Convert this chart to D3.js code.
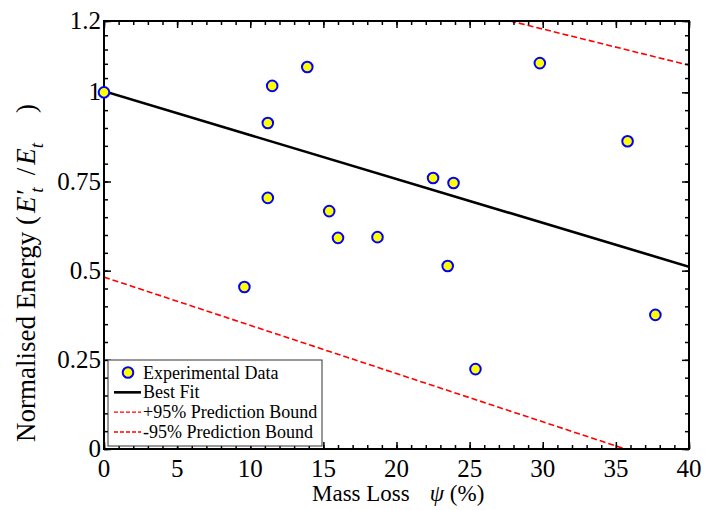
<!DOCTYPE html>
<html>
<head>
<meta charset="utf-8">
<script src="https://cdn.jsdelivr.net/npm/d3@7"></script>
<style>
  body { margin: 0; background: #fff; }
  svg text { font-family: "Liberation Serif", "Times New Roman", serif; fill: #000; }
</style>
</head>
<body>
<div id="chart"></div>
<script>
// experimental points
var massLoss = [0, 9.6, 11.2, 11.2, 11.5, 13.9, 15.4, 16.0, 18.7, 22.5, 23.9, 23.5, 25.4, 29.8, 35.8, 37.7];
var energy   = [1.0, 0.454, 0.704, 0.914, 1.018, 1.071, 0.667, 0.592, 0.594, 0.760, 0.746, 0.513, 0.224, 1.082, 0.863, 0.376];

// best fit and prediction bounds (end points)
var fitX = [0, 40];
var fitY = [1.003, 0.511];
var upperX = [20, 40];
var upperY = [1.279, 1.076];
var lowerX = [0, 40];
var lowerY = [0.482, -0.059];

var xTicks = [0, 5, 10, 15, 20, 25, 30, 35, 40];
var yTicks = [0, 0.25, 0.5, 0.75, 1, 1.2];
var yTickLabels = ["0", "0.25", "0.5", "0.75", "1", "1.2"];

var legendLabels = ["Experimental Data", "Best Fit", "+95% Prediction Bound", "-95% Prediction Bound"];

(function() {
var width = 706, height = 510;
var pLeft = 104, pRight = 689, pTop = 21, pBottom = 449;

var svg = d3.select("#chart").append("svg")
	.attr("width", width)
	.attr("height", height);

var x = d3.scaleLinear().domain([0, 40]).range([pLeft, pRight]);
var y = d3.scaleLinear().domain([0, 1.2]).range([pBottom, pTop]);

svg.append("clipPath").attr("id", "clip")
	.append("rect")
	.attr("x", pLeft).attr("y", pTop)
	.attr("width", pRight - pLeft).attr("height", pBottom - pTop);

var plot = svg.append("g").attr("clip-path", "url(#clip)");

var line = d3.line()
	.x(function(d) { return x(d[0]); })
	.y(function(d) { return y(d[1]); });

plot.append("path")
	.datum(d3.zip(upperX, upperY))
	.attr("d", line)
	.attr("fill", "none")
	.attr("stroke", "#ff0000")
	.attr("stroke-width", 1.6)
	.attr("stroke-dasharray", "6,3");

plot.append("path")
	.datum(d3.zip(lowerX, lowerY))
	.attr("d", line)
	.attr("fill", "none")
	.attr("stroke", "#ff0000")
	.attr("stroke-width", 1.6)
	.attr("stroke-dasharray", "6,3");

plot.append("path")
	.datum(d3.zip(fitX, fitY))
	.attr("d", line)
	.attr("fill", "none")
	.attr("stroke", "#000")
	.attr("stroke-width", 2.6);

// minor tick positions: x every 1, y five parts per major interval
var xMinor = d3.range(0, 41, 1);
var yMinor = [];
for (var i = 0; i < yTicks.length - 1; i++) {
	for (var k = 0; k < 5; k++) {
		yMinor.push(yTicks[i] + (yTicks[i + 1] - yTicks[i]) * k / 5);
	}
}
yMinor.push(1.2);

var axes = svg.append("g");
function tickAxis(axis, ticks, len) {
	return axis.tickValues(ticks).tickSize(len).tickFormat("");
}
function styleAxis(g) {
	g.select(".domain").remove();
	g.selectAll(".tick line").attr("stroke", "#000").attr("stroke-width", 1.5);
}
// inward ticks (negative size)
axes.append("g").attr("transform", "translate(0," + pBottom + ")")
	.call(tickAxis(d3.axisBottom(x), xMinor, -4)).call(styleAxis);
axes.append("g").attr("transform", "translate(0," + pBottom + ")")
	.call(tickAxis(d3.axisBottom(x), xTicks, -7)).call(styleAxis);
axes.append("g").attr("transform", "translate(0," + pTop + ")")
	.call(tickAxis(d3.axisTop(x), xMinor, -4)).call(styleAxis);
axes.append("g").attr("transform", "translate(0," + pTop + ")")
	.call(tickAxis(d3.axisTop(x), xTicks, -7)).call(styleAxis);
axes.append("g").attr("transform", "translate(" + pLeft + ",0)")
	.call(tickAxis(d3.axisLeft(y), yMinor, -4)).call(styleAxis);
axes.append("g").attr("transform", "translate(" + pLeft + ",0)")
	.call(tickAxis(d3.axisLeft(y), yTicks, -7)).call(styleAxis);
axes.append("g").attr("transform", "translate(" + pRight + ",0)")
	.call(tickAxis(d3.axisRight(y), yMinor, -4)).call(styleAxis);
axes.append("g").attr("transform", "translate(" + pRight + ",0)")
	.call(tickAxis(d3.axisRight(y), yTicks, -7)).call(styleAxis);

svg.append("rect")
	.attr("x", pLeft).attr("y", pTop)
	.attr("width", pRight - pLeft).attr("height", pBottom - pTop)
	.attr("fill", "none")
	.attr("stroke", "#000")
	.attr("stroke-width", 2);

// tick labels
svg.append("g").selectAll("text")
	.data(xTicks)
	.enter().append("text")
	.attr("x", function(d) { return x(d); })
	.attr("y", pBottom + 28)
	.attr("text-anchor", "middle")
	.style("font-size", "25px")
	.text(function(d) { return d; });

svg.append("g").selectAll("text")
	.data(yTicks)
	.enter().append("text")
	.attr("x", pLeft - 3)
	.attr("y", function(d) { return y(d) + 8; })
	.attr("text-anchor", "end")
	.style("font-size", "25px")
	.text(function(d, i) { return yTickLabels[i]; });

// points (not clipped, the first one sits on the axis)
svg.append("g").selectAll("circle")
	.data(d3.zip(massLoss, energy))
	.enter().append("circle")
	.attr("cx", function(d) { return x(d[0]); })
	.attr("cy", function(d) { return y(d[1]); })
	.attr("r", 5.3)
	.attr("fill", "#ffff00")
	.attr("stroke", "#0000ff")
	.attr("stroke-width", 2);

// axis titles
var xt = svg.append("text")
	.attr("x", 312)
	.attr("y", 501)
	.style("font-size", "23px");
xt.append("tspan").text("Mass Loss");
xt.append("tspan").attr("dx", 20).style("font-style", "italic").text("\u03c8");
xt.append("tspan").text(" (%)");

var yt = svg.append("text")
	.attr("transform", "translate(35,442) rotate(-90)")
	.style("font-size", "27px");
yt.append("tspan").text("Normalised Energy (");
yt.append("tspan").attr("dx", 3).style("font-style", "italic").text("E\u2032");
yt.append("tspan").style("font-style", "italic").style("font-size", "19px").attr("dx", -2).attr("dy", 8).text("t");
yt.append("tspan").attr("dx", 12).attr("dy", -8).text("/");
yt.append("tspan").attr("dx", 3).style("font-style", "italic").text("E");
yt.append("tspan").style("font-style", "italic").style("font-size", "19px").attr("dy", 8).text("t");
yt.append("tspan").attr("dx", 30).attr("dy", -8).text(")");

// legend
var lg = svg.append("g");
lg.append("rect")
	.attr("x", 108).attr("y", 360)
	.attr("width", 214).attr("height", 86)
	.attr("fill", "#fff")
	.attr("stroke", "#333")
	.attr("stroke-width", 1);

var rowY = d3.scalePoint().domain(legendLabels).range([372.5, 432]);

lg.selectAll("text.lab")
	.data(legendLabels)
	.enter().append("text")
	.attr("class", "lab")
	.attr("x", 143)
	.attr("y", function(d) { return rowY(d) + 6; })
	.style("font-size", "18px")
	.text(function(d) { return d; });

lg.append("circle")
	.attr("cx", 128).attr("cy", rowY(legendLabels[0]))
	.attr("r", 5.3)
	.attr("fill", "#ffff00")
	.attr("stroke", "#0000ff")
	.attr("stroke-width", 2);
lg.append("line")
	.attr("x1", 114).attr("x2", 141)
	.attr("y1", rowY(legendLabels[1])).attr("y2", rowY(legendLabels[1]))
	.attr("stroke", "#000").attr("stroke-width", 2.6);
[2, 3].forEach(function(i) {
	lg.append("line")
		.attr("x1", 114).attr("x2", 141)
		.attr("y1", rowY(legendLabels[i])).attr("y2", rowY(legendLabels[i]))
		.attr("stroke", "#ff0000").attr("stroke-width", 1.4)
		.attr("stroke-dasharray", "4,2");
});
})();
</script>
</body>
</html>
